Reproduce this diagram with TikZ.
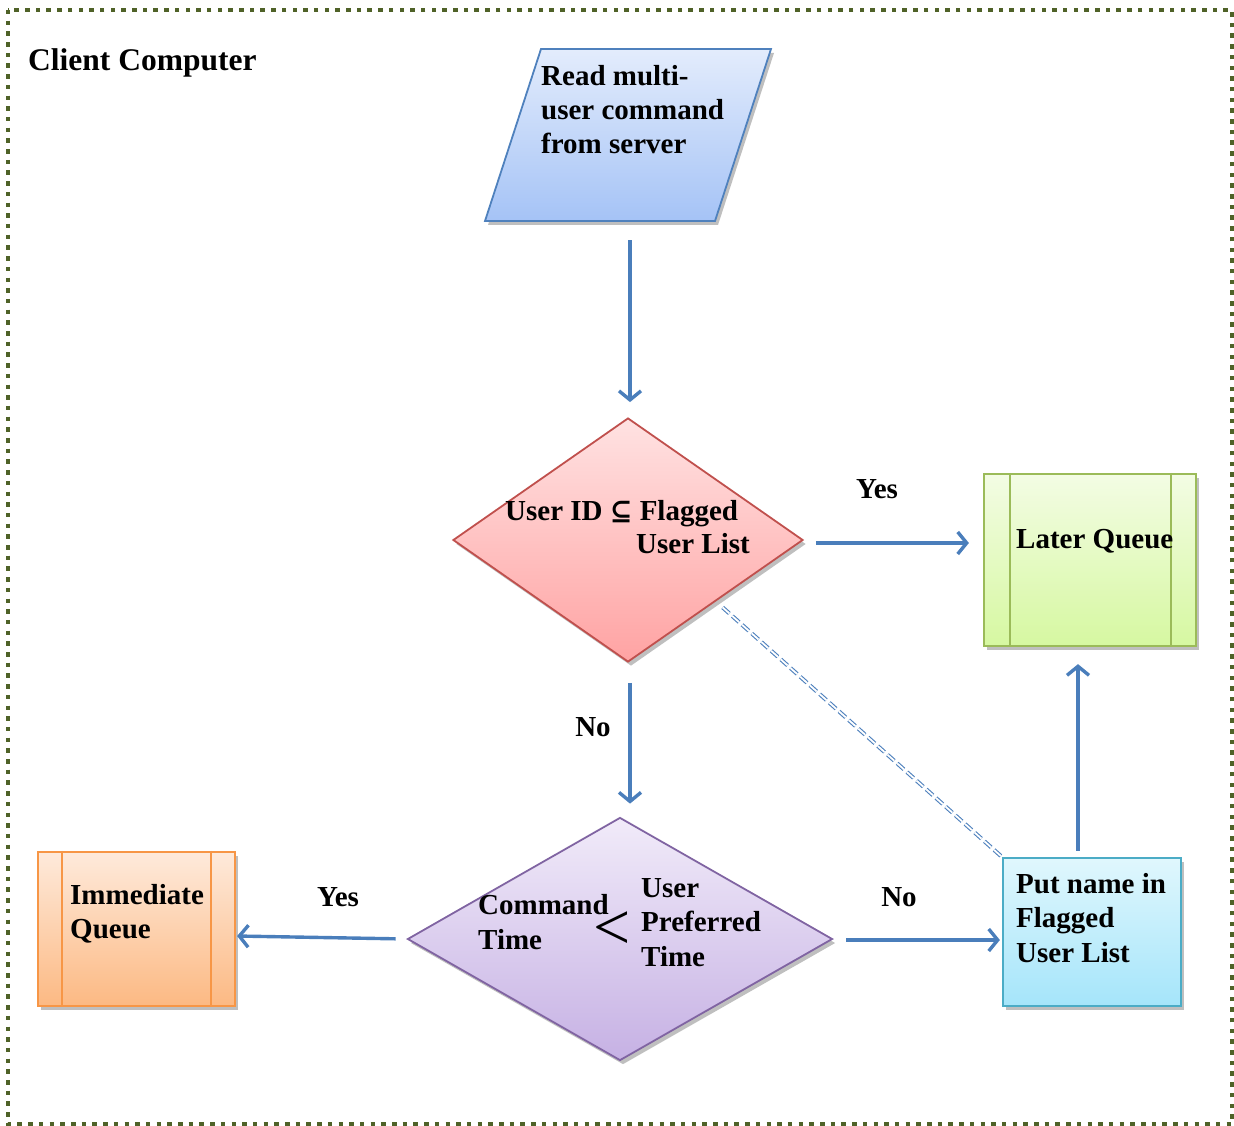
\documentclass[tikz,border=0pt]{standalone}
\usepackage{fontspec}
\setmainfont{Liberation Serif}
\newfontfamily\symbolfont{DejaVu Serif}
\usetikzlibrary{shapes.geometric,shadows,arrows.meta,calc}

\definecolor{frameolive}{HTML}{4F6228}
\definecolor{flowblue}{HTML}{4A7EBB}
\definecolor{readline}{HTML}{4F81BD}
\definecolor{readtop}{HTML}{E3ECFC}
\definecolor{readbot}{HTML}{A5C3F6}
\definecolor{redline}{HTML}{C0504D}
\definecolor{redtop}{HTML}{FFE2E2}
\definecolor{redbot}{HTML}{FFA3A3}
\definecolor{greenline}{HTML}{9BBB59}
\definecolor{greentop}{HTML}{F3FCE4}
\definecolor{greenbot}{HTML}{D6F8A1}
\definecolor{purpleline}{HTML}{8064A2}
\definecolor{purpletop}{HTML}{F1EBF9}
\definecolor{purplebot}{HTML}{C6B1E4}
\definecolor{orangeline}{HTML}{F79646}
\definecolor{orangetop}{HTML}{FEEADB}
\definecolor{orangebot}{HTML}{FCB983}
\definecolor{cyanline}{HTML}{4BACC6}
\definecolor{cyantop}{HTML}{E0F7FD}
\definecolor{cyanbot}{HTML}{A5E5FA}

\begin{document}
\begin{tikzpicture}[x=1pt,y=-1pt,
  softshadow/.style={drop shadow={shadow xshift=3pt,shadow yshift=-4pt,opacity=0.25,fill=black}},
  shapebox/.style={inner sep=0pt,line width=1.8pt,softshadow},
  queuebox/.style={shapebox,rectangle,line width=2.2pt},
  txt/.style={inner sep=0pt,anchor=base west,font=\fontsize{29}{34}\selectfont\bfseries},
  lbl/.style={inner sep=0pt,anchor=base,font=\fontsize{29}{34}\selectfont\bfseries},
  flow/.style={draw=flowblue,line width=3.4pt,-{Straight Barb[length=9pt,width=22pt,line width=3.4pt]}},
  link/.style={draw=readline,line width=1.1pt,double=white,double distance=1.8pt,dash pattern=on 9pt off 4pt}
]
\useasboundingbox (0,0) rectangle (1234,1126);

% dotted frame around the client side
\draw[frameolive,line width=4.5pt,dash pattern=on 4.5pt off 6.2pt] (8,10) rectangle (1232,1124);
\node[inner sep=0pt,anchor=base west,font=\fontsize{31.5}{36}\selectfont\bfseries] (title) at (28,71) {Client Computer};

% input parallelogram
\path[line width=1.8pt,draw=readline,top color=readtop,bottom color=readbot,softshadow]
  (541,49) -- (771,49) -- (715,221) -- (485,221) -- cycle;
\coordinate (readbottom) at (630,221);

% shapes
\node[shapebox,diamond,minimum width=350pt,minimum height=244pt,draw=redline,top color=redtop,bottom color=redbot] (d1) at (628,540) {};
\node[queuebox,minimum width=212pt,minimum height=172pt,draw=greenline,top color=greentop,bottom color=greenbot] (later) at (1090,560) {};
\draw[greenline,line width=2.2pt] ([xshift=27pt]later.north west) -- ([xshift=27pt]later.south west)
                                  ([xshift=-26pt]later.north east) -- ([xshift=-26pt]later.south east);
\node[shapebox,diamond,minimum width=425pt,minimum height=243pt,draw=purpleline,top color=purpletop,bottom color=purplebot] (d2) at (620,939) {};
\node[queuebox,minimum width=197pt,minimum height=154pt,draw=orangeline,top color=orangetop,bottom color=orangebot] (imm) at (136.5,929) {};
\draw[orangeline,line width=2.2pt] ([xshift=25pt]imm.north west) -- ([xshift=25pt]imm.south west)
                                   ([xshift=-25pt]imm.north east) -- ([xshift=-25pt]imm.south east);
\node[queuebox,minimum width=178pt,minimum height=148pt,draw=cyanline,top color=cyantop,bottom color=cyanbot] (put) at (1092,932) {};

% texts inside the shapes
\node[txt] (r1) at (541,86)  {Read multi-};
\node[txt] (r2) at (541,120) {user command};
\node[txt] (r3) at (541,154) {from server};

\node[txt] (q1) at (505,520) {User ID {\symbolfont\fontsize{27}{34}\selectfont\bfseries ⊆} Flagged};
\node[txt,anchor=base east] (q2) at (750,553) {User List};

\node[txt] (lq) at (1016,548) {Later Queue};

\node[txt] (c1) at (478,914) {Command};
\node[txt] (c2) at (478,949) {Time};
\node[inner sep=0pt,anchor=center,font=\fontsize{66}{66}\selectfont] (lt) at (612,931) {<};
\node[txt] (p1) at (641,897) {User};
\node[txt] (p2) at (641,931) {Preferred};
\node[txt] (p3) at (641,966) {Time};

\node[txt] (i1) at (70,904) {Immediate};
\node[txt] (i2) at (70,938) {Queue};

\node[txt] (f1) at (1016,893) {Put name in};
\node[txt] (f2) at (1016,927) {Flagged};
\node[txt] (f3) at (1016,962) {User List};

% branch labels
\node[lbl] (yes1) at (877,498) {Yes};
\node[lbl] (no1)  at (593,736) {No};
\node[lbl] (yes2) at (338,906) {Yes};
\node[lbl] (no2)  at (899,906) {No};

% connectors
\draw[flow,shorten <=19pt,shorten >=15pt] (readbottom) -- (readbottom |- d1.north);
\draw[flow,shorten <=12pt,shorten >=14pt] ([yshift=-3pt]d1.east) -- ([yshift=-3pt]d1.east -| later.west);
\draw[flow,shorten <=20pt,shorten >=13pt] ([xshift=2pt]d1.south) -- ([xshift=2pt]d1.south |- d2.north);
\draw[flow,shorten <=11pt,shorten >=1pt] (d2.west) -- ([yshift=-7pt]imm.east);
\draw[flow,shorten <=13pt,shorten >=2pt] ([yshift=-1pt]d2.east) -- ([yshift=-1pt]d2.east -| put.west);
\draw[flow,shorten <=6pt,shorten >=17pt] ([xshift=-14pt]put.north) -- ([xshift=-14pt]put.north |- later.south);
\draw[link,shorten <=9pt] (d1.south east) -- (put.north west);
\end{tikzpicture}
\end{document}
